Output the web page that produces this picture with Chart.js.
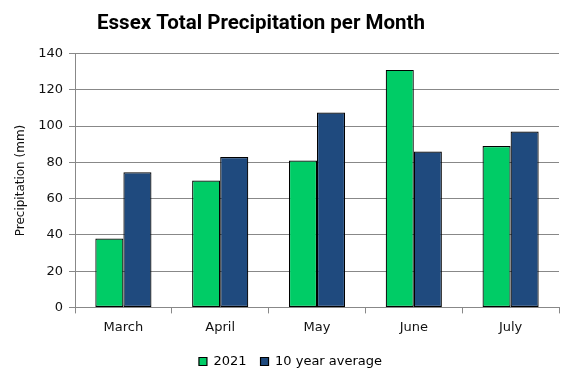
<!DOCTYPE html>
<html>
<head>
<meta charset="utf-8">
<script src="https://cdn.jsdelivr.net/npm/chart.js@4/dist/chart.umd.min.js"></script>
<style>
  html, body { margin: 0; padding: 0; background: #fff; }
  #wrap { width: 574px; height: 378px; position: relative; }
</style>
</head>
<body>
<div id="wrap"><canvas id="precipChart"></canvas></div>
<script>
const months = ["March", "April", "May", "June", "July"];
const precip2021 = [38, 70, 81, 131, 89];
const tenYearAvg = [74.5, 83, 107.5, 86, 97];
const yTicks = [0, 20, 40, 60, 80, 100, 120, 140];

const axisFont = { family: "DejaVu Sans", size: 13 };

// title sits left of the canvas centre, legend a little right of it
const nudgeBoxes = {
  id: "nudgeBoxes",
  afterLayout(chart) {
    const t = chart.titleBlock;
    if (t) t.right = 514;
    const lg = chart.legend;
    if (lg) {
      lg.left += 7;
      lg.right += 7;
    }
  },
};

const ctx = document.getElementById("precipChart").getContext("2d");

new Chart(ctx, {
  type: "bar",
  data: {
    labels: months,
    datasets: [
      {
        label: "2021",
        data: precip2021,
        backgroundColor: "#00cc66",
        borderColor: "#000",
        borderWidth: 1.2,
        borderSkipped: false,
      },
      {
        label: "10 year average",
        data: tenYearAvg,
        backgroundColor: "#1f4a7e",
        borderColor: "#000",
        borderWidth: 1.2,
        borderSkipped: false,
      },
    ],
  },
  options: {
    responsive: true,
    maintainAspectRatio: false,
    animation: false,
    datasets: {
      bar: { barPercentage: 1, categoryPercentage: 0.58 },
    },
    layout: { padding: { left: 8, right: 15, top: 6, bottom: 0 } },
    plugins: {
      title: {
        display: true,
        text: "Essex Total Precipitation per Month",
        color: "#000",
        font: { family: "Roboto", size: 20.5, weight: "bold" },
        padding: { top: 6, bottom: 17 },
      },
      legend: {
        position: "bottom",
        labels: {
          color: "#000",
          font: axisFont,
          boxWidth: 8,
          boxHeight: 8,
          padding: 14,
        },
      },
      tooltip: { enabled: false },
    },
    scales: {
      x: {
        grid: {
          offset: true,
          drawOnChartArea: false,
          color: "#888",
          tickLength: 6,
        },
        border: { color: "#888" },
        ticks: { color: "#111", font: axisFont, padding: 6 },
      },
      y: {
        min: 0,
        max: 140,
        afterBuildTicks: (axis) => {
          axis.ticks = yTicks.map((v) => ({ value: v }));
        },
        afterFit: (axis) => {
          axis.width = 67; // plot starts at x≈75
        },
        grid: { color: "#888", tickLength: 6 },
        border: { color: "#888" },
        ticks: { color: "#111", font: axisFont, padding: 6 },
        title: {
          display: true,
          text: "Precipitation (mm)",
          color: "#111",
          font: { family: "DejaVu Sans", size: 12 },
          padding: { top: 6, bottom: 4 },
        },
      },
    },
  },
  plugins: [nudgeBoxes],
});
</script>
</body>
</html>
